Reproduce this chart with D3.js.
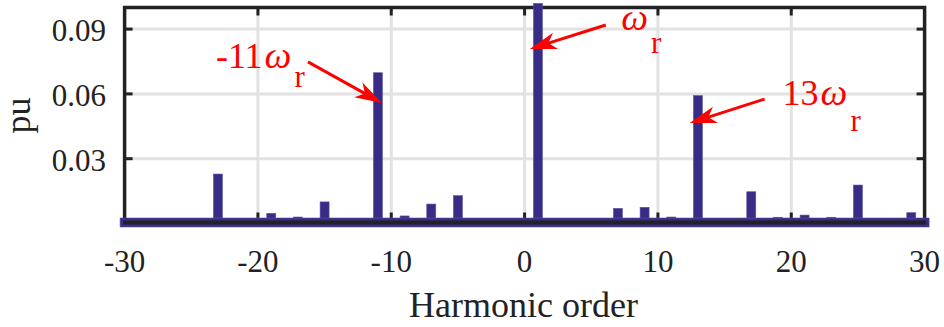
<!DOCTYPE html>
<html>
<head>
<meta charset="utf-8">
<script src="https://cdn.jsdelivr.net/npm/d3@7/dist/d3.min.js"></script>
<style>
  html, body { margin: 0; padding: 0; background: #fff; }
  svg { display: block; }
</style>
</head>
<body>
<svg id="chart" width="944" height="327"></svg>
<script>
// Harmonic spectrum (per unit) by harmonic order
const harmonics  = [-23, -19, -17, -15, -11, -9, -7, -5, 1, 7, 9, 11, 13, 17, 19, 21, 23, 25, 29];
const magnitudes = [0.0229, 0.0047, 0.0030, 0.0100, 0.0698, 0.0035, 0.0090, 0.0129, 0.1019,
                    0.0070, 0.0075, 0.0030, 0.0592, 0.0147, 0.0029, 0.0039, 0.0029, 0.0178, 0.0050];

const xTicks = [-30, -20, -10, 0, 10, 20, 30];
const yTicks = [0.03, 0.06, 0.09];
const yTickLabels = ["0.03", "0.06", "0.09"];

// Callouts: arrow tail/tip and label anchor in data coordinates
const calloutText   = ["-11", "", "13"];
const calloutLabelH = [-23.15, 7.1, 19.35];
const calloutLabelV = [0.0720, 0.0896, 0.0549];
const calloutSubDrop = [19, 23, 26];
const calloutTailH  = [-16.25, 6.09, 18.0];
const calloutTailV  = [0.0748, 0.0919, 0.0576];
const calloutTipH   = [-10.7, 0.39, 12.39];
const calloutTipV   = [0.0558, 0.0808, 0.0465];

const FONT = "'Liberation Serif', 'Times New Roman', Times, 'DejaVu Serif', serif";

const svg = d3.select("#chart").attr("font-family", FONT);
const x = d3.scaleLinear().domain([-30, 30]).range([124.6, 924.6]);
const y = d3.scaleLinear().domain([0, 0.1]).range([223.5, 7.5]);

const barColor = "#382c86";
const axisColor = "#222";
const gridColor = "#e2e2e2";
const red = "#ff0000";

// grid
svg.append("g").selectAll("line").data(xTicks.slice(1, -1)).join("line")
  .attr("x1", d => x(d)).attr("x2", d => x(d))
  .attr("y1", y(0.1)).attr("y2", y(0))
  .attr("stroke", gridColor).attr("stroke-width", 3);
svg.append("g").selectAll("line").data(yTicks).join("line")
  .attr("x1", x(-30)).attr("x2", x(30))
  .attr("y1", d => y(d)).attr("y2", d => y(d))
  .attr("stroke", gridColor).attr("stroke-width", 3);

// box: top, left, right
const box = svg.append("g").attr("stroke", axisColor).attr("stroke-width", 3.5).attr("fill", "none");
box.append("path").attr("d", `M${x(-30)},${y(0)}V${y(0.1)}H${x(30)}V${y(0)}`);

// ticks (inward) on top, left and right
const tickLen = 8;
const ticks = svg.append("g").attr("stroke", axisColor).attr("stroke-width", 3);
ticks.selectAll(".tt").data(xTicks.slice(1, -1)).join("line")
  .attr("x1", d => x(d)).attr("x2", d => x(d))
  .attr("y1", y(0.1)).attr("y2", y(0.1) + tickLen);
ticks.selectAll(".tl").data(yTicks).join("line")
  .attr("x1", x(-30)).attr("x2", x(-30) + tickLen)
  .attr("y1", d => y(d)).attr("y2", d => y(d));
ticks.selectAll(".tr").data(yTicks).join("line")
  .attr("x1", x(30)).attr("x2", x(30) - tickLen)
  .attr("y1", d => y(d)).attr("y2", d => y(d));
// bottom ticks
ticks.selectAll(".tb").data(xTicks.slice(1, -1)).join("line")
  .attr("x1", d => x(d)).attr("x2", d => x(d))
  .attr("y1", y(0)).attr("y2", y(0) - tickLen - 3);

// bars
const barW = x(0.675) - x(0);
svg.append("g").selectAll("rect").data(harmonics).join("rect")
  .attr("x", (d, i) => x(d) - barW / 2)
  .attr("y", (d, i) => y(magnitudes[i]))
  .attr("width", barW)
  .attr("height", (d, i) => y(0) - y(magnitudes[i]))
  .attr("fill", barColor)
  .attr("stroke", "#5b52a3").attr("stroke-width", 0.6);

// bar baseline
svg.append("rect")
  .attr("x", x(-30) - 4.5).attr("y", y(0) - 5.5)
  .attr("width", x(30) - x(-30) + 9).attr("height", 9)
  .attr("fill", barColor).attr("stroke", "#5b52a3").attr("stroke-width", 0.6);
// bottom axis line
svg.append("line")
  .attr("x1", x(-30) - 1.5).attr("x2", x(30) + 1.5)
  .attr("y1", y(0) - 1).attr("y2", y(0) - 1)
  .attr("stroke", axisColor).attr("stroke-width", 4);

// tick labels
svg.append("g").selectAll("text").data(xTicks).join("text")
  .attr("x", d => x(d)).attr("y", 272)
  .attr("text-anchor", "middle")
  .attr("font-family", FONT)
  .attr("font-size", 31).attr("fill", axisColor)
  .text(d => d);
svg.append("g").selectAll("text").data(yTicks).join("text")
  .attr("x", 106).attr("y", d => y(d) + 12)
  .attr("text-anchor", "end")
  .attr("font-family", FONT)
  .attr("font-size", 31).attr("fill", axisColor)
  .text((d, i) => yTickLabels[i]);

// axis titles
svg.append("text")
  .attr("x", 523.5).attr("y", 317)
  .attr("text-anchor", "middle")
  .attr("font-family", FONT)
  .attr("font-size", 36).attr("fill", axisColor)
  .text("Harmonic order");
svg.append("text")
  .attr("transform", `translate(30,${(y(0) + y(0.1)) / 2}) rotate(-90)`)
  .attr("text-anchor", "middle")
  .attr("font-family", FONT)
  .attr("font-size", 36).attr("fill", axisColor)
  .text("pu");

// callouts
const headL = 27, headW = 17;
const ann = svg.append("g");
calloutText.forEach((t, i) => {
  const x0 = x(calloutTailH[i]), y0 = y(calloutTailV[i]);
  const x1 = x(calloutTipH[i]),  y1 = y(calloutTipV[i]);
  const ang = Math.atan2(y1 - y0, x1 - x0) * 180 / Math.PI;
  const len = Math.hypot(x1 - x0, y1 - y0);
  const g = ann.append("g").attr("transform", `translate(${x0},${y0}) rotate(${ang})`);
  g.append("line").attr("x1", 0).attr("y1", 0).attr("x2", len - headL * 0.6).attr("y2", 0)
    .attr("stroke", red).attr("stroke-width", 3);
  g.append("path")
    .attr("d", `M${len},0 L${len - headL},${-headW / 2} L${len - headL * 0.72},0 L${len - headL},${headW / 2} Z`)
    .attr("fill", red);

  const label = ann.append("text")
    .attr("x", x(calloutLabelH[i])).attr("y", y(calloutLabelV[i]))
    .attr("font-family", FONT)
    .attr("font-size", 36).attr("fill", red);
  if (t) label.append("tspan").text(t);
  label.append("tspan").attr("font-style", "italic").attr("dx", 2).attr("font-size", 38).text("ω");
  label.append("tspan").attr("font-size", 31).attr("dx", 3).attr("dy", calloutSubDrop[i]).text("r");
});
</script>
</body>
</html>
